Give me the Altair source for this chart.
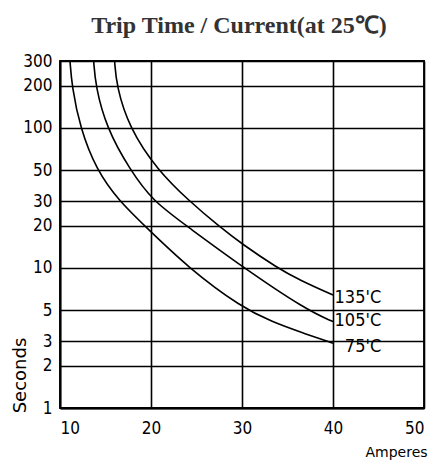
import altair as alt
import pandas as pd

# Curve data (Amperes, Seconds)
amps_75 = [11.1, 11.3, 12.2, 14.0, 16.5, 19.3, 24.1, 30.0, 33.4, 36.3, 40.0]
secs_75 = [300, 200, 100, 50, 30, 20, 10, 5.2, 4.1, 3.5, 2.9]

amps_105 = [13.7, 13.9, 15.1, 17.7, 20.2, 23.9, 30.0, 37.1, 40.0]
secs_105 = [300, 200, 100, 50, 30, 20, 10.2, 5.0, 4.14]

amps_135 = [16.0, 16.2, 17.6, 20.7, 24.2, 27.4, 30.0, 33.9, 36.3, 40.0]
secs_135 = [300, 200, 100, 50, 30, 20, 14.8, 10, 8.2, 6.4]

series_names = ["75'C", "105'C", "135'C"]
label_secs = [2.73, 4.2, 6.1]
label_amps = [45.3, 45.3, 45.3]

x_ticks = [10, 20, 30, 40, 50]
y_ticks = [1, 2, 3, 5, 10, 20, 30, 50, 100, 200, 300]

rows = []
for name, xs, ys in zip(series_names, [amps_75, amps_105, amps_135], [secs_75, secs_105, secs_135]):
    for a, s in zip(xs, ys):
        rows.append({"series": name, "amps": a, "secs": s})
df = pd.DataFrame(rows)
labels = pd.DataFrame({"series": series_names, "amps": label_amps, "secs": label_secs})

x_enc = alt.X("amps:Q",
              scale=alt.Scale(domain=[10, 50], nice=False, zero=False),
              axis=alt.Axis(values=x_ticks, title="Amperes", grid=True, ticks=False,
                            labelPadding=12, titleX=336, titleY=44,
                            titleAlign="center", titleBaseline="middle"))
y_enc = alt.Y("secs:Q",
              scale=alt.Scale(type="log", domain=[1, 300], nice=False),
              axis=alt.Axis(values=y_ticks, title="Seconds", grid=True, ticks=False,
                            labelPadding=8, titleX=-40, titleY=314,
                            titleAlign="center", titleBaseline="middle"))

lines = alt.Chart(df).mark_line(color="black", strokeWidth=1.6, interpolate="basis").encode(
    x=x_enc, y=y_enc, detail="series:N", order="amps:Q"
)

texts = alt.Chart(labels).mark_text(
    align="right", baseline="middle", font="DejaVu Sans Condensed", fontSize=18, color="black"
).encode(x="amps:Q", y="secs:Q", text="series:N")

chart = alt.layer(lines, texts).properties(
    width=364, height=347,
    autosize=alt.AutoSizeParams(type="none"),
    padding={"left": 52, "top": 53, "right": 5, "bottom": 52},
    title=alt.TitleParams("Trip Time / Current(at 25℃)", font="Liberation Serif",
                          fontSize=24, fontWeight="bold", color="#333333",
                          offset=14, anchor="middle", dx=-3),
).configure_axis(
    gridColor="black", gridWidth=1.6, gridOpacity=1,
    domainColor="black", domainWidth=1.8,
    labelFont="DejaVu Sans Condensed", labelFontSize=17, labelColor="black",
    titleFont="DejaVu Sans", titleFontWeight="normal", titleColor="black",
).configure_axisX(titleFontSize=14).configure_axisY(titleFontSize=18).configure_view(
    stroke="black", strokeWidth=1.8
)

chart.save("out.html", embed_options={"renderer": "svg", "actions": False})
